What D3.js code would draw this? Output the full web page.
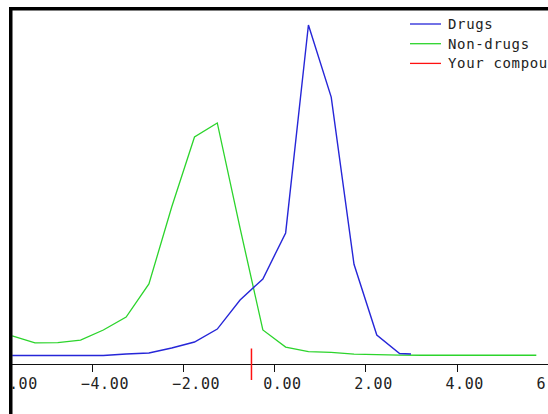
<!DOCTYPE html>
<html>
<head>
<meta charset="utf-8">
<script src="https://cdn.jsdelivr.net/npm/d3@7"></script>
<style>
  body { margin: 0; background: #fff; }
  svg { display: block; }
</style>
</head>
<body>
<div id="chart"></div>
<script>
// bin centres (property score) and frequencies
var binCenters = [-5.75, -5.25, -4.75, -4.25, -3.75, -3.25, -2.75, -2.25, -1.75, -1.25,
  -0.75, -0.25, 0.25, 0.75, 1.25, 1.75, 2.25, 2.75, 3.25, 3.75, 4.25, 4.75, 5.25, 5.75]

var drugsX = [-5.75, -5.25, -4.75, -4.25, -3.75, -3.25, -2.75, -2.25, -1.75, -1.25,
  -0.75, -0.25, 0.25, 0.75, 1.25, 1.75, 2.25, 2.75, 3.0]
var drugsY = [0, 0, 0, 0, 0, 0.11, 0.19, 0.57, 1.02, 2.0,
  4.2, 5.79, 9.27, 25.0, 19.55, 6.9, 1.55, 0.15, 0.11]

var nonDrugsY = [1.48, 0.95, 0.98, 1.17, 1.93, 2.91, 5.41, 11.23, 16.53, 17.59,
  9.64, 1.93, 0.64, 0.3, 0.23, 0.11, 0.06, 0.03, 0.02, 0.02, 0.02, 0.02, 0.02, 0.02]

var yourCompound = -0.5

var tickValues = [-6, -4, -2, 0, 2, 4, 6]

var legendLabels = ['Drugs', 'Non-drugs', 'Your compound']
var legendColors = ['#2626d8', '#2cd42c', '#ff1010']

var width = 548
var height = 414

var svg = d3.select('#chart')
  .append('svg')
  .attr('width', width)
  .attr('height', height)

var xPositionScale = d3.scaleLinear().domain([-6, 6]).range([0.8, 547.7])
var yPositionScale = d3.scaleLinear().domain([0, 25]).range([355.5, 25])
var axisY = 364

var line = d3.line()
  .x(d => xPositionScale(d[0]))
  .y(d => yPositionScale(d[1]))

var drugs = drugsX.map((x, i) => [x, drugsY[i]])
var nonDrugs = binCenters.map((x, i) => [x, nonDrugsY[i]])

// x axis
var xAxis = d3.axisBottom(xPositionScale)
  .tickValues(tickValues)
  .tickSize(8)
  .tickSizeOuter(0)
  .tickFormat(d3.format('.2f'))

var axisG = svg.append('g')
  .attr('class', 'axis x-axis')
  .attr('transform', 'translate(0,' + axisY + ')')
  .call(xAxis)

axisG.select('.domain').attr('stroke', '#111').attr('shape-rendering', 'crispEdges')
axisG.selectAll('.tick line').attr('stroke', '#111').attr('shape-rendering', 'crispEdges')
axisG.selectAll('.tick text')
  .attr('text-anchor', 'start')
  .attr('x', -11.6)
  .attr('y', 24.5)
  .attr('dy', 0)
  .attr('fill', '#222')
  .style('font-family', '"DejaVu Sans Mono", monospace')
  .style('font-size', '15px')
  .style('letter-spacing', '0.6px')

// curves
svg.append('path')
  .datum(nonDrugs)
  .attr('d', line)
  .attr('fill', 'none')
  .attr('stroke', legendColors[1])
  .attr('stroke-width', 1.3)

svg.append('path')
  .datum(drugs)
  .attr('d', line)
  .attr('fill', 'none')
  .attr('stroke', legendColors[0])
  .attr('stroke-width', 1.4)

// your compound marker
svg.append('line')
  .attr('x1', xPositionScale(yourCompound))
  .attr('x2', xPositionScale(yourCompound))
  .attr('y1', axisY - 15.5)
  .attr('y2', axisY + 16)
  .attr('stroke', legendColors[2])
  .attr('stroke-width', 1.5)

// legend
var legend = svg.selectAll('.legend')
  .data(legendLabels)
  .enter()
  .append('g')
  .attr('class', 'legend')
  .attr('transform', (d, i) => 'translate(410,' + (24 + i * 19.7) + ')')

legend.append('line')
  .attr('x1', 0)
  .attr('x2', 31)
  .attr('y1', 0)
  .attr('y2', 0)
  .attr('stroke', (d, i) => legendColors[i])
  .attr('stroke-width', 1.3)

legend.append('text')
  .text(d => d)
  .attr('x', 38)
  .attr('y', 5)
  .attr('fill', '#222')
  .style('font-family', '"DejaVu Sans Mono", monospace')
  .style('font-size', '14px')
  .style('letter-spacing', '0.65px')

// blank margin left of the frame
svg.append('rect')
  .attr('x', 0)
  .attr('y', 0)
  .attr('width', 9)
  .attr('height', height)
  .attr('fill', '#fff')

// frame: heavy top and left edges
svg.append('rect')
  .attr('x', 9)
  .attr('y', 7)
  .attr('width', width - 9)
  .attr('height', 3.5)
  .attr('fill', '#000')

svg.append('rect')
  .attr('x', 9)
  .attr('y', 7)
  .attr('width', 3.5)
  .attr('height', height - 7)
  .attr('fill', '#000')
</script>
</body>
</html>
